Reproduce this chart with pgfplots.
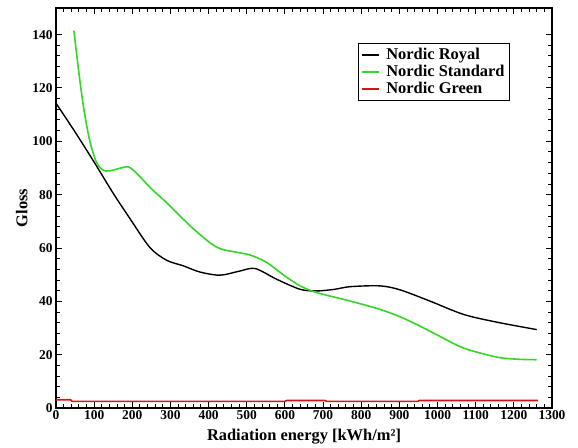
\documentclass[border=0pt]{standalone}
\usepackage{fontspec}
\setmainfont{Liberation Serif}
\usepackage{pgfplots}
\pgfplotsset{compat=1.18}
\definecolor{ngreen}{RGB}{50,215,40}
\definecolor{nred}{RGB}{210,20,20}
\begin{document}
\begin{tikzpicture}
\begin{axis}[
  at={(0,0)}, anchor=south west, scale only axis,
  width=496bp, height=400bp,
  xmin=0, xmax=1300, ymin=0, ymax=150,
  xtick={0,100,...,1300}, ytick={0,20,...,140},
  minor x tick num=4, minor y tick num=4,
  tick align=inside, xtick pos=both, ytick pos=both,
  major tick length=6bp, minor tick length=4bp,
  axis line style={line width=1.4pt},
  every tick/.style={black, line width=1pt},
  tick label style={font=\fontsize{13.5}{13.5}\selectfont\bfseries},
  xticklabel style={yshift=1bp},
  /pgf/number format/assume math mode=true,
  /pgf/number format/1000 sep={},
  xlabel={Radiation energy [kWh/m²]},
  ylabel={Gloss},
  label style={font=\fontsize{16.5}{16.5}\selectfont\bfseries},
  xlabel style={at={(axis description cs:0.5,0)}, anchor=base, yshift=-32bp},
  ylabel style={yshift=-2bp},
  legend style={at={(rel axis cs:0.609,0.9125)}, anchor=north west,
    draw=black, line width=1pt, font=\fontsize{16.5}{18}\selectfont\bfseries,
    row sep=0pt, inner sep=3pt,
    /tikz/every odd column/.append style={column sep=4pt}},
  legend image post style={line width=1.8pt},
  legend cell align=left,
]
\addplot[black, line width=1.4pt, smooth] coordinates {
(0,114.3) (50,103.5) (100,92.2) (150,80.5) (194,71) (246,60.2) (290,55.4)
(334,53.3) (377,51) (430,49.8) (480,51.3) (522,52.3) (578,48.3) (640,44.5)
(683,43.9) (730,44.5) (771,45.5) (849,45.8) (902,44.3) (980,40.1) (1068,35.1)
(1155,32.2) (1260,29.4)};
\addlegendentry{Nordic Royal}
\addplot[ngreen, line width=1.6pt, smooth] coordinates {
(47,141.5) (58,128) (72,113) (88,100.5) (105,92.5) (122,89.3)
(140,88.9) (165,89.8) (190,90.4) (215,87.5) (250,82.2) (290,77) (360,67.2) (421,60.3)
(470,58.5) (508,57.4) (552,54.6) (600,49.5) (640,45.8) (683,43.3) (771,40.1)
(849,37) (900,34.3) (950,31) (1000,27.3) (1068,22.5) (1155,19.1) (1210,18.3)
(1260,18.1)};
\addlegendentry{Nordic Standard}
\addplot[nred, line width=1.6pt] coordinates {
(0,3.1) (38,3.1) (42,2.5) (600,2.5) (605,2.8) (705,2.8) (710,2.5) (948,2.5)
(952,2.8) (1263,2.8)};
\addlegendentry{Nordic Green}
\end{axis}
\pgfresetboundingbox
\path (-56bp,-40bp) rectangle (522bp,408bp);
\end{tikzpicture}
\end{document}
